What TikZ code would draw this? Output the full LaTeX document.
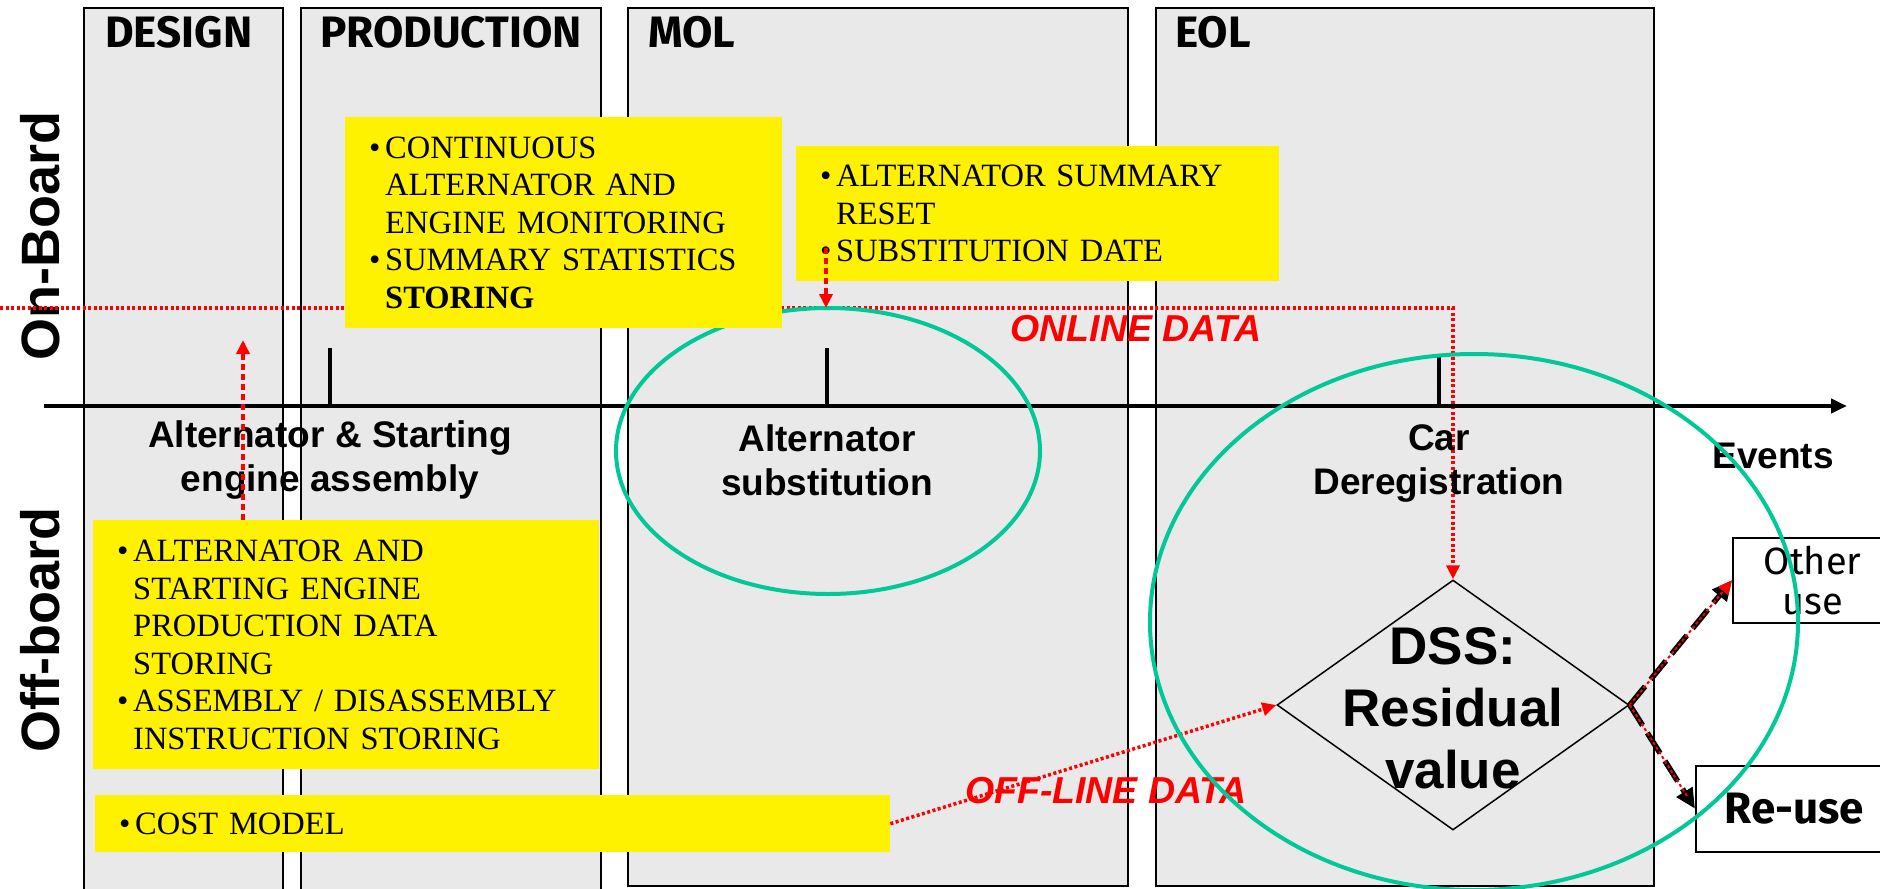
\documentclass[tikz,border=0pt]{standalone}
\usepackage{fontspec}
\setmainfont{Liberation Serif}
\setsansfont{Liberation Sans}
\newfontfamily\comicfont{Fira Sans}
\usetikzlibrary{positioning,shapes.geometric,arrows.meta}

\definecolor{phasegray}{RGB}{233,233,233}
\definecolor{ringgreen}{RGB}{0,200,150}
\newcommand{\bul}{\makebox[16pt][l]{\textbullet}}
\newcommand{\ind}{\hspace*{16pt}}

\tikzset{
  phase/.style={draw, line width=1.5pt, fill=phasegray, anchor=north west, inner sep=0pt},
  phasetitle/.style={anchor=west, inner sep=0pt, font=\comicfont\bfseries\fontsize{44}{44}\selectfont},
  side/.style={rotate=90, font=\sffamily\bfseries\fontsize{54}{54}\selectfont},
  note/.style={fill=yellow, anchor=north west, align=left, inner xsep=24pt, inner ysep=0pt, font=\fontsize{32.5}{37.5}\selectfont},
  event/.style={align=center, font=\sffamily\bfseries\fontsize{37}{44}\selectfont},
  datalabel/.style={text=red, font=\sffamily\bfseries\itshape\fontsize{37.5}{37.5}\selectfont},
  outbox/.style={draw, line width=1.5pt, fill=white, anchor=north west, align=center, font=\comicfont\fontsize{38}{40}\selectfont},
  ring/.style={draw=ringgreen, line width=4pt},
  datalink/.style={red, line width=3.5pt, dash pattern=on 3pt off 2.5pt},
  redtip/.style={-{Triangle[length=14pt,width=13pt]}},
  feed/.style={red, line width=4.5pt, dash pattern=on 6pt off 4pt, -{Triangle[length=14pt,width=13pt]}},
  decide/.style={black, line width=5.5pt, dash pattern=on 24pt off 9pt, -{Triangle[length=20pt,width=18pt]}},
}

\begin{document}
\begin{tikzpicture}[x=1pt,y=-1pt]
\useasboundingbox (0,0) rectangle (1880,889);
\node (design) [phase, minimum width=199, minimum height=892] at (83,7) {};
\node (prod)   [phase, minimum width=300, minimum height=892] at (300,7) {};
\node (mol)    [phase, minimum width=500, minimum height=878] at (627,7) {};
\node (eol)    [phase, minimum width=498, minimum height=878] at (1155,7) {};
\node (designT) [phasetitle] at ([xshift=22pt,yshift=-25pt]design.north west) {DESIGN};
\node (prodT)   [phasetitle] at ([xshift=20pt,yshift=-25pt]prod.north west) {PRODUCTION};
\node (molT)    [phasetitle] at ([xshift=21pt,yshift=-25pt]mol.north west) {MOL};
\node (eolT)    [phasetitle] at ([xshift=20pt,yshift=-25pt]eol.north west) {EOL};

\node (onboard)  [side] at (40,236) {On-Board};
\node (offboard) [side] at (40,630) {Off-board};

\node (dss) [draw, diamond, line width=1.5pt, minimum width=352, minimum height=250, inner sep=0pt] at (1453,705) {};
\coordinate (online) at (0,308);
\draw[datalink, redtip] (online) -- (online -| dss.north) -- (dss.north);

\coordinate (tstart) at (44,406);
\coordinate (tend) at (1847,406);
\draw[line width=4pt, -{Triangle[length=16pt,width=14pt]}] (tstart) -- (tend);
\node (assembly) [event] at (330,460) {Alternator \& Starting\\engine assembly};
\node (subst)    [event] at (827,460) {Alternator\\substitution};
\node (dereg)    [event] at (1439,463) {Car\\Deregistration};
\node (events)   [event] at (1773,456) {Events};
\draw[line width=4pt] (assembly |- tstart) -- ++(0,-58);
\draw[line width=4pt] (subst |- tstart) -- ++(0,-58);
\draw[line width=4pt] (dereg |- tstart) -- ++(0,-49);

\draw[ring] (828,451) ellipse [x radius=212pt, y radius=143pt];

\node (boxA) [note, text width=389pt, minimum height=211pt] at (345,117)
  {\bul CONTINUOUS\\\ind ALTERNATOR AND\\\ind ENGINE MONITORING\\\bul SUMMARY STATISTICS\\\ind\textbf{STORING}};
\node (boxB) [note, text width=435pt, minimum height=135pt] at (796,146)
  {\bul ALTERNATOR SUMMARY\\\ind RESET\\\bul SUBSTITUTION DATE};
\node (boxC) [note, text width=458pt, minimum height=249pt] at (93,520)
  {\bul ALTERNATOR AND\\\ind STARTING ENGINE\\\ind PRODUCTION DATA\\\ind STORING\\\bul ASSEMBLY / DISASSEMBLY\\\ind INSTRUCTION STORING};
\node (boxD) [note, text width=747pt, minimum height=57pt] at (95,795) {\bul COST MODEL};

\coordinate (designUp) at (243,340);
\draw[feed] (boxC.north -| designUp) -- (designUp);
\coordinate (resetFrom) at (826,248);
\draw[feed] (resetFrom) -- (resetFrom |- online);

\node (onlineT)  [datalabel] at (1136,329) {ONLINE DATA};
\node (offlineT) [datalabel] at (1106,791) {OFF-LINE DATA};
\draw[datalink, redtip] (boxD.east) -- (dss.west);

\node (dssT) [align=center, font=\sffamily\bfseries\fontsize{53}{62}\selectfont] at (1453,708) {DSS:\\Residual\\value};

\node (other) [outbox, minimum width=160, minimum height=85] at (1732,537) {Other\\use};
\node (reuse) [outbox, minimum width=197, minimum height=86, font=\comicfont\bfseries\fontsize{44}{44}\selectfont] at (1695,765) {Re-use};

\draw[decide] (dss.east) -- (other.west);
\draw[datalink, line width=2pt, redtip] (dss.east) -- (other.west);
\draw[decide] (dss.east) -- (reuse.west);
\draw[datalink, line width=2pt, shorten >=14pt] (dss.east) -- (reuse.west);

\draw[ring] (1474,622) ellipse [x radius=324pt, y radius=268pt];
\end{tikzpicture}
\end{document}
